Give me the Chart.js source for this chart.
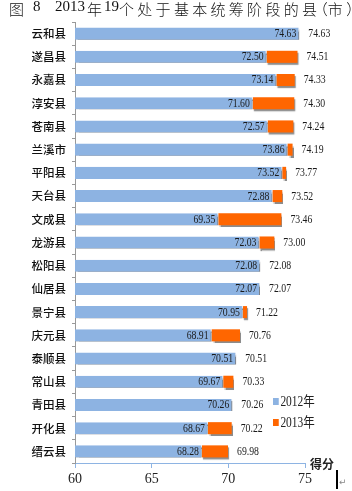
<!DOCTYPE html>
<html>
<head>
<meta charset="utf-8">
<script src="https://cdn.jsdelivr.net/npm/chart.js@4.4.0/dist/chart.umd.min.js"></script>
<style>
  html, body { margin: 0; padding: 0; background: #fff; }
  #wrap { position: relative; width: 352px; height: 491px; overflow: hidden; }
  #chart { position: absolute; left: 0; top: 0; }
  #title { position: absolute; left: 0; top: -2px; width: 352px; height: 22px;
    font: 300 15px "Liberation Serif", "Noto Sans CJK SC"; color: #111; }
  #title span { position: absolute; top: 0; white-space: nowrap; }
  .cjk { letter-spacing: 3.3px; }
  .halt { font-feature-settings: "halt"; }
  .leg { position: absolute; left: 273px; font: 14px "Liberation Serif", "Noto Sans CJK SC"; color: #222;
    white-space: nowrap; transform: scaleX(0.82); transform-origin: left center; }
  .leg i { display: inline-block; width: 7px; height: 7px; margin-right: 2px; vertical-align: 1px; }
  #cursor { position: absolute; left: 336px; top: 470px; width: 2px; height: 19px; background: #000; }
  #ret { position: absolute; left: 339px; top: 477px; font: 9px "DejaVu Sans"; color: #888; }
</style>
</head>
<body>
<div id="wrap">
  <canvas id="chart" width="352" height="491"></canvas>
  <div id="title">
    <span style="left:9px">图</span>
    <span style="left:33px">8</span>
    <span style="left:55px">2013</span>
    <span style="left:87px">年</span>
    <span style="left:104px">19</span>
    <span class="cjk" style="left:119px">个处于基本统筹阶段的县<span class="halt" style="position:static;letter-spacing:0">（</span>市<span class="halt" style="position:static;letter-spacing:0">）</span></span>
  </div>
  <div class="leg" style="top:390px"><i style="background:#8db3e2"></i>2012年</div>
  <div class="leg" style="top:411px"><i style="background:#ff6600"></i>2013年</div>
  <div id="cursor"></div>
  <div id="ret">↵</div>
</div>
<script>
const counties = ["云和县", "遂昌县", "永嘉县", "淳安县", "苍南县", "兰溪市", "平阳县", "天台县", "文成县", "龙游县",
  "松阳县", "仙居县", "景宁县", "庆元县", "泰顺县", "常山县", "青田县", "开化县", "缙云县"];
const score2012 = [74.63, 72.50, 73.14, 71.60, 72.57, 73.86, 73.52, 72.88, 69.35, 72.03,
  72.08, 72.07, 70.95, 68.91, 70.51, 69.67, 70.26, 68.67, 68.28];
const score2013 = [74.63, 74.51, 74.33, 74.30, 74.24, 74.19, 73.77, 73.52, 73.46, 73.00,
  72.08, 72.07, 71.22, 70.76, 70.51, 70.33, 70.26, 70.22, 69.98];
const axisMin = 60;

const shadowPlugin = {
  id: "shadow",
  beforeDatasetsDraw(chart) {
    const ctx = chart.ctx;
    ctx.save();
    ctx.shadowColor = "rgba(0,0,0,0.45)";
    ctx.shadowOffsetX = 1;
    ctx.shadowOffsetY = 2;
    ctx.shadowBlur = 1;
  },
  afterDatasetsDraw(chart) {
    chart.ctx.restore();
  }
};

function squishText(ctx, text, x, y, align) {
  ctx.save();
  ctx.translate(x, y);
  ctx.scale(0.75, 1);
  ctx.textAlign = align;
  ctx.fillText(text, 0, 0);
  ctx.restore();
}

const labelPlugin = {
  id: "valueLabels",
  afterDraw(chart) {
    const ctx = chart.ctx;
    const blue = chart.getDatasetMeta(0).data;
    const orange = chart.getDatasetMeta(1).data;
    ctx.save();
    ctx.font = "13px 'Liberation Serif'";
    ctx.fillStyle = "#1a1a1a";
    ctx.textBaseline = "middle";
    blue.forEach((bar, i) => {
      squishText(ctx, score2012[i].toFixed(2), bar.x - 3, bar.y, "right");
      const endX = chart.scales.x.getPixelForValue(score2013[i]);
      squishText(ctx, score2013[i].toFixed(2), endX + 9, orange[i].y, "left");
    });
    // axis title at the right end of the x axis
    const area = chart.chartArea;
    ctx.font = "bold 12px 'Noto Sans CJK SC'";
    ctx.fillStyle = "#222";
    ctx.textAlign = "left";
    ctx.fillText("得分", area.right + 5, area.bottom + 1);
    ctx.restore();
  }
};

new Chart(document.getElementById("chart"), {
  type: "bar",
  data: {
    labels: counties,
    datasets: [
      {
        label: "2012年",
        data: score2012.map(v => [axisMin, v]),
        backgroundColor: "#8db3e2",
        borderColor: "#dce6f2",
        borderWidth: { right: 1 },
        borderSkipped: false
      },
      {
        label: "2013年",
        data: score2013.map((v, i) => [score2012[i], v]),
        backgroundColor: "#ff6600",
        borderWidth: 0
      }
    ]
  },
  options: {
    indexAxis: "y",
    responsive: false,
    animation: false,
    grouped: false,
    barPercentage: 0.52,
    categoryPercentage: 1,
    layout: { padding: { top: 22, right: 47, left: 0, bottom: 0 } },
    plugins: {
      legend: { display: false },
      tooltip: { enabled: false }
    },
    scales: {
      x: {
        min: 60,
        max: 75,
        ticks: { stepSize: 5, color: "#222", padding: 3, font: { family: "Liberation Serif", size: 14 } },
        grid: { drawOnChartArea: false, drawTicks: true, tickLength: 5, color: "#8eb4e3" },
        border: { color: "#8eb4e3" },
        afterFit: s => { s.height = 28; }
      },
      y: {
        ticks: { color: "#111", padding: 6, font: { family: "Noto Sans CJK SC", size: 11.5, weight: "500" } },
        grid: { drawOnChartArea: false, drawTicks: true, tickLength: 3, color: "#999", offset: true },
        border: { color: "#999" },
        afterFit: s => { s.width = 75; }
      }
    }
  },
  plugins: [shadowPlugin, labelPlugin]
});
</script>
</body>
</html>
